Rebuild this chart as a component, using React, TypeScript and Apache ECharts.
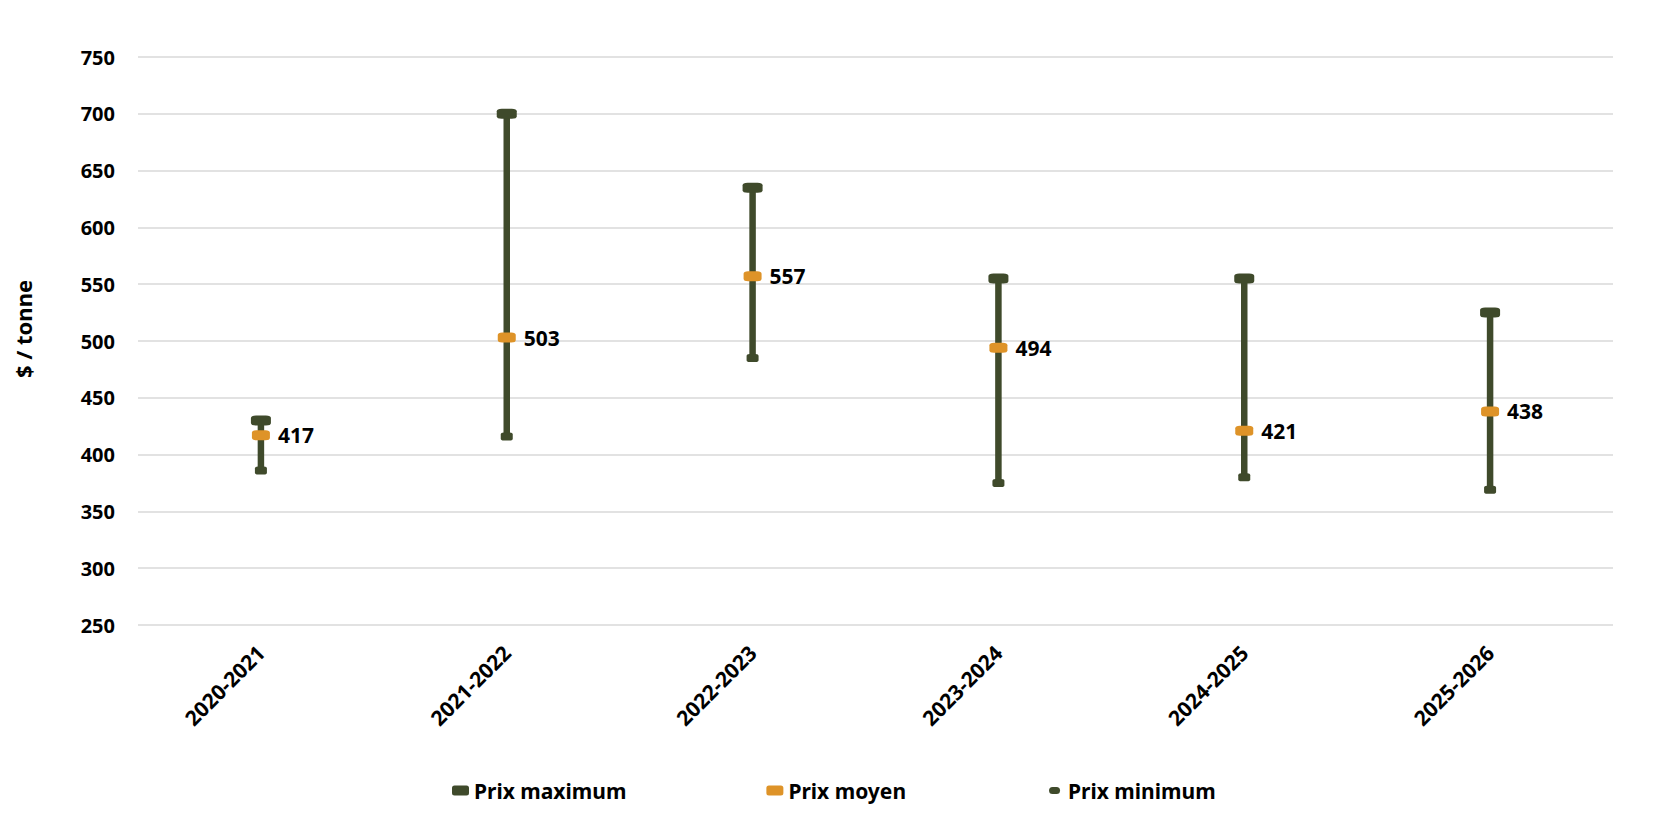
import React, { useEffect, useRef } from "react";
import * as echarts from "echarts";

const categories = ["2020-2021", "2021-2022", "2022-2023", "2023-2024", "2024-2025", "2025-2026"];
const maxPrices = [430, 700, 635, 555, 555, 525];
const avgPrices = [417, 503, 557, 494, 421, 438];
const minPrices = [386, 416, 485, 375, 380, 369];

const DARK = "#3F4A2B";
const ORANGE = "#DE9328";
const FONT = "'Noto Sans', 'Open Sans', sans-serif";
const MIN_ICON = "path://M0,0M17,10M6.5,1.5h4a3.5,3.5 0 0 1 0,7h-4a3.5,3.5 0 0 1 0,-7z";

export default function App() {
  const ref = useRef<HTMLDivElement>(null);
  useEffect(() => {
    if (!ref.current) return;
    const chart = echarts.init(ref.current, null, { renderer: "svg" });
    const rangeData = categories.map((c, i) => [i, minPrices[i], maxPrices[i]]);
    chart.setOption({
      animation: false,
      backgroundColor: "#ffffff",
      textStyle: { fontFamily: FONT },
      grid: { left: 138, right: 42, top: 57, bottom: 213, outerBoundsMode: "none", containLabel: false },
      graphic: [
        {
          type: "text",
          x: 23,
          y: 329,
          rotation: Math.PI / 2,
          style: {
            text: "$ / tonne",
            fontSize: 22,
            fontWeight: "bold",
            fill: "#000",
            fontFamily: FONT,
            align: "center",
            verticalAlign: "middle",
          },
        },
      ],
      legend: {
        data: [
          { name: "Prix maximum" },
          { name: "Prix moyen" },
          { name: "Prix minimum", icon: MIN_ICON },
        ],
        left: 447,
        top: 775,
        itemGap: 140,
        itemWidth: 17,
        itemHeight: 10,
        textStyle: { fontSize: 21, fontWeight: "bold", color: "#000", fontFamily: FONT },
      },
      xAxis: {
        type: "category",
        data: categories,
        axisLine: { show: false },
        axisTick: { show: false },
        axisLabel: {
          rotate: 45,
          margin: 24,
          fontSize: 21,
          fontWeight: "bold",
          color: "#000",
          fontFamily: FONT,
        },
      },
      yAxis: {
        type: "value",
        min: 250,
        max: 750,
        interval: 50,
        axisLine: { show: false },
        axisTick: { show: false },
        axisLabel: { margin: 23, fontSize: 20, fontWeight: "bold", color: "#000", fontFamily: FONT },
        splitLine: { lineStyle: { color: "#D9D9D9", width: 1.5 } },
      },
      series: [
        {
          type: "custom",
          name: "range",
          data: rangeData,
          encode: { x: 0, y: [1, 2] },
          renderItem: (params: any, api: any) => {
            const p1 = api.coord([api.value(0), api.value(1)]);
            const p2 = api.coord([api.value(0), api.value(2)]);
            return {
              type: "line",
              shape: { x1: p1[0], y1: p1[1], x2: p2[0], y2: p2[1] },
              style: { stroke: DARK, lineWidth: 6.5 },
            };
          },
          z: 1,
        },
        {
          type: "scatter",
          name: "Prix minimum",
          data: minPrices,
          symbol: "roundRect",
          symbolSize: [12, 8],
          itemStyle: { color: DARK, opacity: 1 },
          z: 2,
        },
        {
          type: "scatter",
          name: "Prix maximum",
          data: maxPrices,
          symbol: "roundRect",
          symbolSize: [20, 10],
          itemStyle: { color: DARK, opacity: 1 },
          z: 2,
        },
        {
          type: "scatter",
          name: "Prix moyen",
          data: avgPrices,
          symbol: "roundRect",
          symbolSize: [18, 10],
          itemStyle: { color: ORANGE, opacity: 1 },
          label: {
            show: true,
            position: "right",
            distance: 8,
            fontSize: 21,
            fontWeight: "bold",
            color: "#000",
            fontFamily: FONT,
          },
          z: 3,
        },
      ],
    });
    return () => chart.dispose();
  }, []);
  return <div ref={ref} style={{ position: "fixed", left: 0, top: 0, width: 1655, height: 838 }} />;
}
